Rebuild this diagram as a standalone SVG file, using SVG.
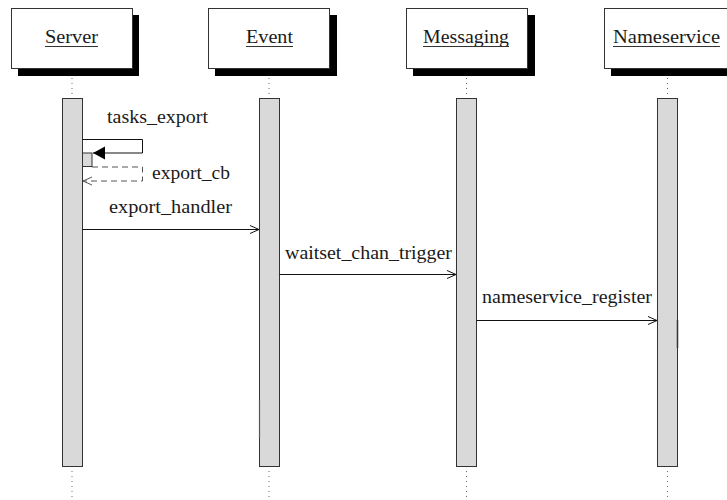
<svg xmlns="http://www.w3.org/2000/svg" width="727" height="500" viewBox="0 0 727 500">
  <style>
    .head { fill: #ffffff; stroke: #333333; stroke-width: 1; }
    .shadow { fill: #000000; }
    .bar { fill: #d9d9d9; stroke: #333333; stroke-width: 1; }
    .life { stroke: #666666; stroke-width: 1; stroke-dasharray: 1 4; fill: none; }
    .label { font-family: "Liberation Serif", "DejaVu Serif", serif; font-size: 18px; fill: #1a1a1a; }
    .uline { stroke: #333333; stroke-width: 1; }
    .msg { stroke: #111111; stroke-width: 1; fill: none; }
    .ret { stroke: #555555; stroke-width: 1; stroke-dasharray: 6 4; fill: none; }
  </style>
  <defs>
    <marker id="open" viewBox="-10 -5 11 10" refX="0" refY="0" markerWidth="11" markerHeight="10" markerUnits="userSpaceOnUse" orient="auto">
      <path d="M-9,-4 L0,0 L-9,4" fill="none" stroke="#111111" stroke-width="1"/>
    </marker>
    <marker id="openGray" viewBox="-10 -5 11 10" refX="0" refY="0" markerWidth="11" markerHeight="10" markerUnits="userSpaceOnUse" orient="auto">
      <path d="M-9,-4 L0,0 L-9,4" fill="none" stroke="#555555" stroke-width="1"/>
    </marker>
    <marker id="filled" viewBox="-13 -7 14 14" refX="0" refY="0" markerWidth="14" markerHeight="14" markerUnits="userSpaceOnUse" orient="auto">
      <path d="M-12,-6.5 L0,0 L-12,6.5 Z" fill="#000000"/>
    </marker>
  </defs>

  <rect width="727" height="500" fill="#ffffff"/>

  <!-- Server -->
  <g id="server">
    <rect class="shadow" x="18" y="15" width="121" height="61"/>
    <rect class="head" x="11.5" y="8.5" width="121" height="60"/>
    <text class="label" x="45" y="43" textLength="53" lengthAdjust="spacingAndGlyphs">Server</text>
    <line class="uline" x1="45" y1="46.5" x2="98" y2="46.5"/>
    <line class="life" x1="72" y1="78" x2="72" y2="98"/>
    <rect class="bar" x="62.5" y="98.5" width="20" height="368"/>
    <line class="life" x1="72" y1="471" x2="72" y2="500"/>
  </g>

  <!-- Event -->
  <g id="event">
    <rect class="shadow" x="215" y="15" width="122" height="61"/>
    <rect class="head" x="208.5" y="8.5" width="121" height="60"/>
    <text class="label" x="246" y="43" textLength="47" lengthAdjust="spacingAndGlyphs">Event</text>
    <line class="uline" x1="246" y1="46.5" x2="293" y2="46.5"/>
    <line class="life" x1="269" y1="78" x2="269" y2="98"/>
    <rect class="bar" x="259.5" y="98.5" width="20" height="368"/>
    <line x1="259.5" y1="400" x2="259.5" y2="438" stroke="#555555" stroke-width="1.2"/>
    <line class="life" x1="269" y1="471" x2="269" y2="500"/>
  </g>

  <!-- Messaging -->
  <g id="messaging">
    <rect class="shadow" x="413" y="15" width="122" height="61"/>
    <rect class="head" x="406.5" y="8.5" width="121" height="60"/>
    <text class="label" x="423" y="43" textLength="86" lengthAdjust="spacingAndGlyphs">Messaging</text>
    <line class="uline" x1="423" y1="46.5" x2="509" y2="46.5" stroke="#000000"/>
    <line class="life" x1="466.5" y1="78" x2="466.5" y2="98"/>
    <rect class="bar" x="456.5" y="98.5" width="20" height="368"/>
    <line class="life" x1="466.5" y1="471" x2="466.5" y2="500"/>
  </g>

  <!-- Nameservice -->
  <g id="nameservice">
    <rect class="shadow" x="611" y="15" width="125" height="61"/>
    <rect class="head" x="604.5" y="8.5" width="124" height="60"/>
    <text class="label" x="613" y="43" textLength="107" lengthAdjust="spacingAndGlyphs">Nameservice</text>
    <line class="uline" x1="613" y1="46.5" x2="720" y2="46.5"/>
    <line class="life" x1="667.5" y1="78" x2="667.5" y2="98"/>
    <rect class="bar" x="657.5" y="98.5" width="20" height="368"/>
    <line x1="677.5" y1="320" x2="677.5" y2="348" stroke="#333333" stroke-width="1.5"/>
    <line class="life" x1="667.5" y1="471" x2="667.5" y2="500"/>
  </g>

  <!-- nested activation on Server for the self call -->
  <g id="server-nested">
    <rect class="bar" x="82.5" y="153" width="9.5" height="13.5"/>
  </g>

  <!-- messages -->
  <g id="connectors">
    <polyline class="msg" points="82.5,139.5 142.5,139.5 142.5,153 93,153" marker-end="url(#filled)"/>
    <text class="label" x="107" y="123" textLength="101" lengthAdjust="spacingAndGlyphs">tasks_export</text>

    <polyline class="ret" points="92,167 142.5,167 142.5,181 83,181" marker-end="url(#openGray)"/>
    <text class="label" x="152" y="179" textLength="78" lengthAdjust="spacingAndGlyphs">export_cb</text>

    <line class="msg" x1="82.5" y1="229.5" x2="259" y2="229.5" marker-end="url(#open)"/>
    <text class="label" x="109" y="213" textLength="123" lengthAdjust="spacingAndGlyphs">export_handler</text>

    <line class="msg" x1="279.5" y1="274.5" x2="456" y2="274.5" marker-end="url(#open)"/>
    <text class="label" x="285" y="259" textLength="167" lengthAdjust="spacingAndGlyphs">waitset_chan_trigger</text>

    <line class="msg" x1="476.5" y1="320.5" x2="657" y2="320.5" marker-end="url(#open)"/>
    <text class="label" x="482" y="303" textLength="170" lengthAdjust="spacingAndGlyphs">nameservice_register</text>
  </g>
</svg>
